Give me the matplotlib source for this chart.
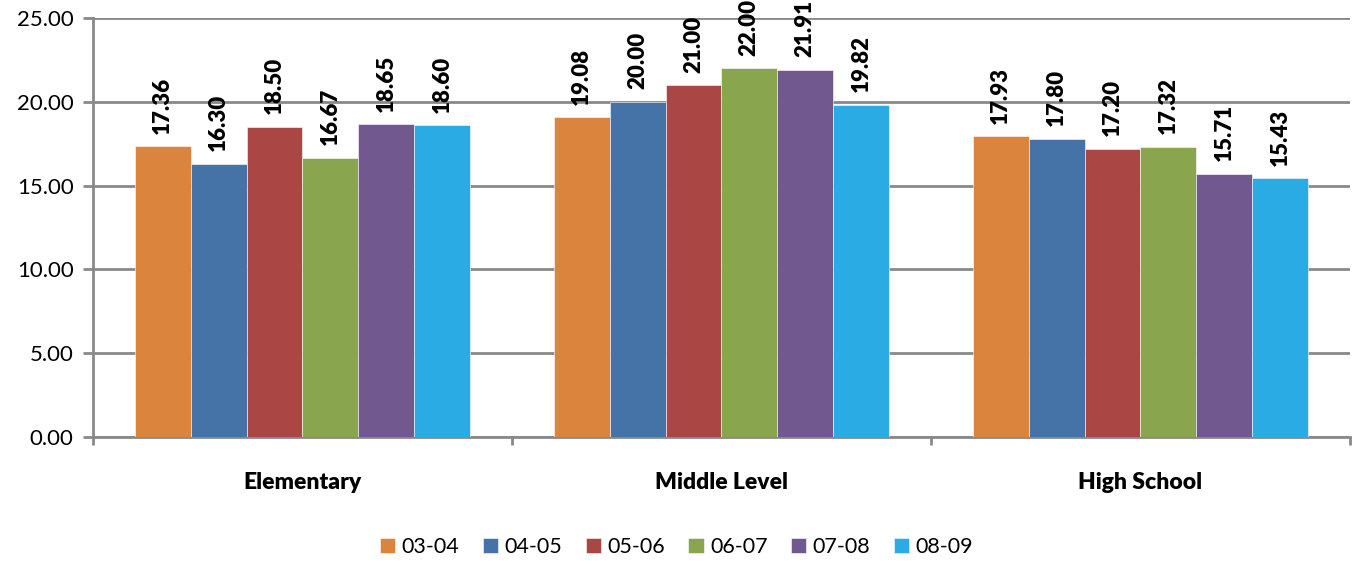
import numpy as np
import matplotlib
matplotlib.use("Agg")
import matplotlib.pyplot as plt

plt.rcParams['font.family'] = ['Lato', 'DejaVu Sans']

levels = ["Elementary", "Middle Level", "High School"]
years = ["03-04", "04-05", "05-06", "06-07", "07-08", "08-09"]
ratio_0304 = [17.36, 19.08, 17.93]
ratio_0405 = [16.30, 20.00, 17.80]
ratio_0506 = [18.50, 21.00, 17.20]
ratio_0607 = [16.67, 22.00, 17.32]
ratio_0708 = [18.65, 21.91, 15.71]
ratio_0809 = [18.60, 19.82, 15.43]
series = [ratio_0304, ratio_0405, ratio_0506, ratio_0607, ratio_0708, ratio_0809]
colors = ["#DB843D", "#4572A7", "#AA4643", "#89A54E", "#71588F", "#2AABE3"]

grid_gray = "#898989"

fig = plt.figure(figsize=(13.53, 5.61), dpi=100)
ax = fig.add_axes([0.0687, 0.221, 0.929, 0.747])

x = np.arange(len(levels))
width = 0.8 / len(years)

for i, (vals, col, yr) in enumerate(zip(series, colors, years)):
    pos = x - 0.4 + width * (i + 0.5)
    ax.bar(pos, vals, width=width, color=col, label=yr, zorder=3,
           edgecolor="white", linewidth=0.4)
    for px, v in zip(pos, vals):
        ax.annotate(f"{v:.2f}", (px, v), xytext=(0, 9), textcoords="offset points",
                    rotation=90, ha="center", va="bottom", fontsize=16,
                    fontweight="heavy", color="black", zorder=4,
                    annotation_clip=False)

ax.set_ylim(0, 25)
ax.set_xlim(-0.5, 2.5)
ax.set_yticks(np.arange(0, 26, 5))
ax.set_yticklabels([f"{t:.2f}" for t in np.arange(0, 26, 5)], fontsize=16)
ax.yaxis.grid(True, color=grid_gray, linewidth=2, zorder=0)

ax.set_xticks(x)
ax.set_xticklabels(levels, fontsize=16.5, fontweight="heavy")
ax.set_xticks([-0.5, 0.5, 1.5, 2.5], minor=True)
ax.tick_params(axis="x", which="major", length=0, pad=25)
ax.tick_params(axis="x", which="minor", length=6, width=2, color=grid_gray)
ax.tick_params(axis="y", length=7, width=2, color=grid_gray, pad=7)

for side in ["top", "right"]:
    ax.spines[side].set_visible(False)
for side in ["left", "bottom"]:
    ax.spines[side].set_color(grid_gray)
    ax.spines[side].set_linewidth(2)

fig.legend(loc="center", bbox_to_anchor=(0.5, 0.025), ncol=6, frameon=False,
           fontsize=15.5, handlelength=0.7, handleheight=0.7, handletextpad=0.3,
           columnspacing=1.1)

fig.savefig("out.png", dpi=100)
